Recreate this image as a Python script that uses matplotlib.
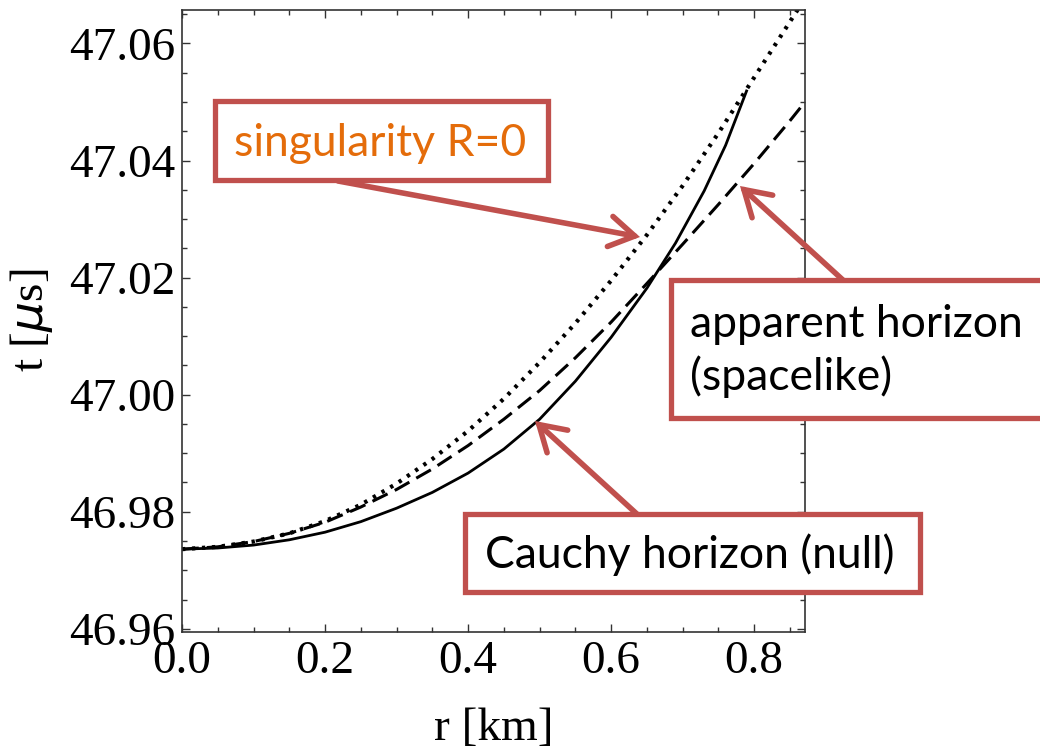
import matplotlib
matplotlib.use("Agg")
import matplotlib.pyplot as plt
from matplotlib.patches import Rectangle, FancyArrowPatch
from matplotlib.ticker import MultipleLocator

# ---- data ----
r_cauchy = [0.00, 0.05, 0.10, 0.15, 0.20, 0.25, 0.30, 0.35, 0.40, 0.45, 0.50,
            0.55, 0.60, 0.65, 0.69, 0.73, 0.76, 0.79]
t_cauchy = [46.9736, 46.9738, 46.9743, 46.9752, 46.9765, 46.9783, 46.9806, 46.9833,
            46.9866, 46.9907, 46.9958, 47.0023, 47.0098, 47.0182, 47.0259, 47.0348,
            47.0426, 47.0521]

r_apparent = [0.00, 0.05, 0.10, 0.15, 0.20, 0.25, 0.30, 0.35, 0.40, 0.45, 0.50,
              0.55, 0.60, 0.65, 0.70, 0.75, 0.80, 0.85, 0.871]
t_apparent = [46.9736, 46.9740, 46.9749, 46.9763, 46.9782, 46.9808, 46.9838, 46.9873,
              46.9913, 46.9958, 47.0007, 47.0063, 47.0124, 47.0190, 47.0257, 47.0325,
              47.0395, 47.0468, 47.0500]

r_sing = [0.00, 0.05, 0.10, 0.15, 0.20, 0.25, 0.30, 0.35, 0.40, 0.45, 0.50,
          0.55, 0.60, 0.65, 0.70, 0.75, 0.80, 0.862]
t_sing = [46.9736, 46.9740, 46.9749, 46.9763, 46.9784, 46.9812, 46.9848, 46.9890,
          46.9938, 46.9993, 47.0055, 47.0122, 47.0195, 47.0273, 47.0357, 47.0447,
          47.0542, 47.0660]

x_ticks = [0.0, 0.2, 0.4, 0.6, 0.8]
y_ticks = [46.96, 46.98, 47.00, 47.02, 47.04, 47.06]

label_sing = "singularity R=0"
label_app = "apparent horizon\n(spacelike)"
label_cauchy = "Cauchy horizon (null)"

# ---- figure ----
W, H = 1040, 752
fig = plt.figure(figsize=(W / 100, H / 100), dpi=100)
fig.patch.set_facecolor("white")

def fx(px):
    return px / W

def fy(py):
    return 1 - py / H

ax_l, ax_r, ax_t, ax_b = 182, 805, 9.5, 631.7
ax = fig.add_axes([fx(ax_l), fy(ax_b), (ax_r - ax_l) / W, (ax_b - ax_t) / H])

ax.plot(r_cauchy, t_cauchy, color="black", lw=2.0, solid_capstyle="butt",
        solid_joinstyle="round")
ax.plot(r_apparent, t_apparent, color="black", lw=2.2, dashes=(5.5, 2.6))
ax.plot(r_sing, t_sing, color="black", lw=3.0, dashes=(0.8, 1.6), dash_capstyle="butt")

ax.set_xlim(0.0, 0.871)
ax.set_ylim(46.9595, 47.0658)

serif = "Liberation Serif"
plt.rcParams["mathtext.fontset"] = "stix"

ax.set_xticks(x_ticks)
ax.set_xticklabels([f"{v:.1f}" for v in x_ticks], fontfamily=serif, fontsize=34)
ax.set_yticks(y_ticks)
ax.set_yticklabels([f"{v:.2f}" for v in y_ticks], fontfamily=serif, fontsize=34)
ax.xaxis.set_minor_locator(MultipleLocator(0.05))
ax.yaxis.set_minor_locator(MultipleLocator(0.005))
ax.tick_params(which="both", direction="in", top=True, right=True,
               color="#333333", width=1.0)
ax.tick_params(which="major", length=6)
ax.tick_params(which="minor", length=3.5)
ax.tick_params(axis="x", which="major", pad=6)
ax.tick_params(axis="y", which="major", pad=5)
for s in ax.spines.values():
    s.set_color("#333333")
    s.set_linewidth(1.2)

ax.set_xlabel("r [km]", fontfamily=serif, fontsize=34, labelpad=18)
ax.set_ylabel(r"t [$\mu$s]", fontfamily=serif, fontsize=34, labelpad=10)

# ---- annotations (boxes + arrows) ----
red = "#C0504D"
orange = "#E46C0A"
annot_font = "Lato"
annot_size = 32

def arrow(x0, y0, x1, y1):
    a = FancyArrowPatch((fx(x0), fy(y0)), (fx(x1), fy(y1)),
                        transform=fig.transFigure,
                        arrowstyle="->,head_length=0.9,head_width=0.55",
                        color=red, lw=4.0, mutation_scale=20, zorder=5,
                        shrinkA=0, shrinkB=0, capstyle="round", joinstyle="miter")
    fig.add_artist(a)

def box(x0, y0, x1, y1):
    rect = Rectangle((fx(x0), fy(y1)), (x1 - x0) / W, (y1 - y0) / H,
                     transform=fig.transFigure, facecolor="white",
                     edgecolor=red, lw=3.8, zorder=6)
    fig.add_artist(rect)

arrow(338, 181, 640, 237)
arrow(844, 281, 740, 186)
arrow(638, 515, 535, 421)

box(215, 101, 548, 180)
box(671, 280, 1060, 418)
box(465, 514, 920, 592)

fig.text(fx(234), fy(156), label_sing, fontfamily=annot_font, fontsize=annot_size,
         color=orange, ha="left", va="baseline", zorder=7)
fig.text(fx(690), fy(337), "apparent horizon", fontfamily=annot_font, fontsize=annot_size,
         color="black", ha="left", va="baseline", zorder=7)
fig.text(fx(690), fy(390), "(spacelike)", fontfamily=annot_font, fontsize=annot_size,
         color="black", ha="left", va="baseline", zorder=7)
fig.text(fx(485), fy(568), label_cauchy, fontfamily=annot_font, fontsize=annot_size,
         color="black", ha="left", va="baseline", zorder=7)

fig.savefig("out.png", dpi=100)
